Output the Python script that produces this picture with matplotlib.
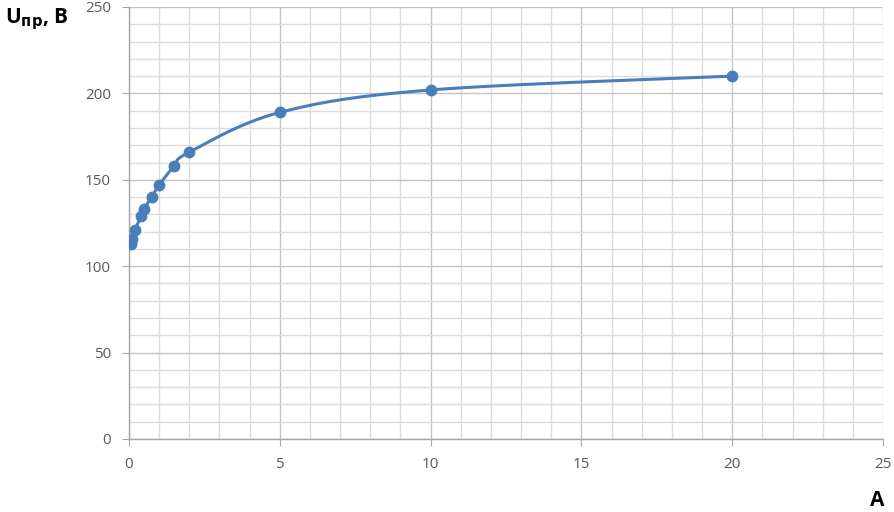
import numpy as np
import matplotlib
matplotlib.use("Agg")
import matplotlib.pyplot as plt
from matplotlib.ticker import MultipleLocator

# current, A  /  breakdown voltage, V
current = [0.05, 0.1, 0.2, 0.4, 0.5, 0.75, 1.0, 1.5, 2.0, 5.0, 10.0, 20.0]
voltage = [113, 116, 121, 129, 133, 140, 147, 158, 166, 189, 202, 210]

x_ticks = [0, 5, 10, 15, 20, 25]
y_ticks = [0, 50, 100, 150, 200, 250]


def smooth(xs, ys, n=30, t=1/6):
    # Excel-like smoothed line: cubic Bezier segments with Catmull-Rom handles
    xs = np.asarray(xs, float)
    ys = np.asarray(ys, float)
    px, py = [], []
    for i in range(len(xs) - 1):
        x0, y0 = (xs[i - 1], ys[i - 1]) if i > 0 else (xs[i], ys[i])
        x3, y3 = (xs[i + 2], ys[i + 2]) if i + 2 < len(xs) else (xs[i + 1], ys[i + 1])
        c1 = (xs[i] + (xs[i + 1] - x0) * t, ys[i] + (ys[i + 1] - y0) * t)
        c2 = (xs[i + 1] - (x3 - xs[i]) * t, ys[i + 1] - (y3 - ys[i]) * t)
        s = np.linspace(0, 1, n)
        b = [(1 - s) ** 3, 3 * s * (1 - s) ** 2, 3 * s ** 2 * (1 - s), s ** 3]
        px.append(b[0] * xs[i] + b[1] * c1[0] + b[2] * c2[0] + b[3] * xs[i + 1])
        py.append(b[0] * ys[i] + b[1] * c1[1] + b[2] * c2[1] + b[3] * ys[i + 1])
    return np.concatenate(px), np.concatenate(py)


plt.rcParams['font.family'] = ['Open Sans', 'DejaVu Sans']

fig = plt.figure(figsize=(8.95, 5.12), dpi=100)
ax = fig.add_axes([129 / 895, 73 / 512, 754 / 895, 432 / 512])

ax.set_xlim(0, 25)
ax.set_ylim(0, 250)
ax.set_xticks(x_ticks)
ax.set_yticks(y_ticks)
ax.xaxis.set_minor_locator(MultipleLocator(1))
ax.yaxis.set_minor_locator(MultipleLocator(10))

ax.grid(which='minor', color='#dcdcdc', linewidth=1.0)
ax.grid(which='major', color='#c4c4c4', linewidth=1.0)
ax.set_axisbelow(True)

for side in ('top', 'right'):
    ax.spines[side].set_visible(False)
for side in ('left', 'bottom'):
    ax.spines[side].set_color('#a6a6a6')
    ax.spines[side].set_linewidth(1.0)

ax.tick_params(which='major', direction='out', length=5, color='#a6a6a6',
               labelsize=11, labelcolor='#595959', pad=8)
ax.tick_params(which='minor', length=0)

sx, sy = smooth(current, voltage)
ax.plot(sx, sy, color='#4a7ebb', linewidth=2.2, zorder=3)
ax.plot(current, voltage, 'o', color='#4a7ebb', markersize=7.5, zorder=4)

fig.text(5 / 895, 1 - 19 / 512, r'U$_{\mathbf{пр}}$, В', fontsize=15, fontweight='bold',
         va='center', ha='left')
fig.text(877 / 895, 1 - 500 / 512, 'A', fontsize=15, fontweight='bold',
         va='center', ha='center')

fig.savefig('out.png', dpi=100)
